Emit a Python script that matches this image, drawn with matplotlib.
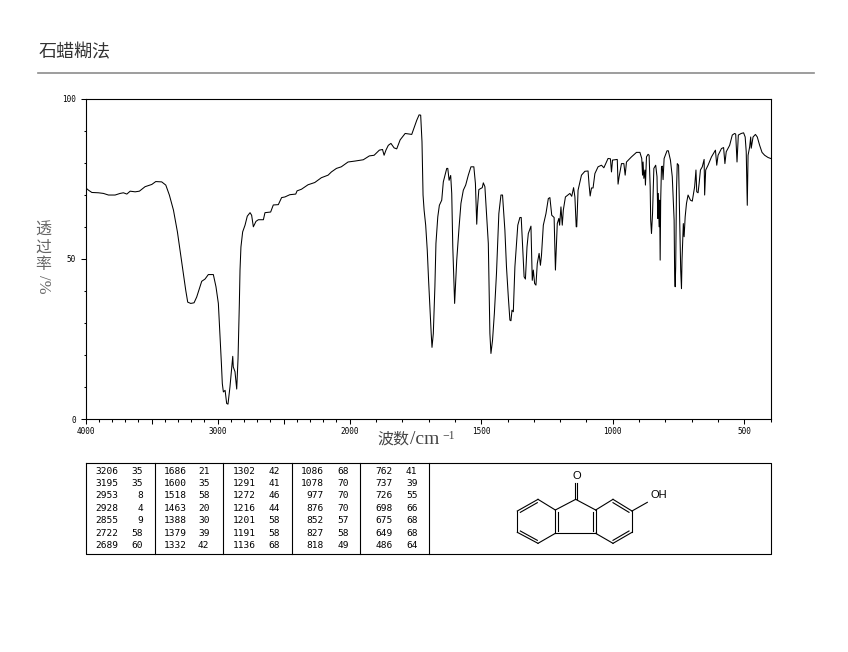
import numpy as np
import matplotlib
matplotlib.use('Agg')
import matplotlib.pyplot as plt

# spektrum: bilangan gelombang (cm-1) dan transmitansi (%)
wavenumber = [4000, 3977, 3952, 3902, 3864, 3826, 3776, 3738, 3713, 3687, 3662, 3624, 3592, 3549, 3498, 3468,
              3423, 3392, 3365, 3334, 3304, 3279, 3259, 3241, 3226, 3203, 3178, 3158, 3133, 3120, 3095, 3070,
              3032, 3012, 2994, 2981, 2971, 2964, 2956, 2943, 2931, 2921, 2906, 2893, 2885, 2881, 2868, 2855,
              2845, 2835, 2830, 2823, 2810, 2792, 2775, 2754, 2742, 2729, 2709, 2691, 2653, 2641, 2598, 2578,
              2540, 2515, 2490, 2453, 2408, 2398, 2365, 2315, 2264, 2214, 2163, 2138, 2100, 2063, 2012, 1979,
              1948, 1925, 1907, 1887, 1875, 1869, 1862, 1853, 1843, 1831, 1821, 1808, 1789, 1764, 1745, 1736,
              1730, 1725, 1721, 1717, 1711, 1705, 1700, 1695, 1690, 1687, 1682, 1676, 1672, 1665, 1659, 1650,
              1644, 1631, 1627, 1622, 1616, 1612, 1608, 1603, 1601, 1593, 1584, 1577, 1568, 1559, 1549, 1539,
              1528, 1522, 1517, 1514, 1509, 1496, 1492, 1486, 1480, 1473, 1469, 1467, 1463, 1457, 1450, 1442,
              1433, 1425, 1419, 1410, 1404, 1397, 1391, 1387, 1383, 1378, 1372, 1366, 1361, 1353, 1348, 1343,
              1337, 1332, 1326, 1321, 1311, 1306, 1302, 1297, 1292, 1287, 1280, 1275, 1271, 1264, 1254, 1245,
              1239, 1232, 1223, 1218, 1211, 1205, 1202, 1197, 1192, 1188, 1180, 1163, 1156, 1149, 1144, 1139,
              1137, 1132, 1119, 1106, 1094, 1090, 1086, 1081, 1075, 1068, 1056, 1043, 1034, 1018, 1009, 1005,
              1001, 983, 980, 976, 967, 958, 953, 948, 929, 910, 897, 890, 887, 885, 882, 878,
              876, 872, 866, 862, 858, 856, 853, 849, 844, 837, 832, 829, 827, 824, 822, 820,
              818, 815, 812, 809, 805, 794, 789, 781, 774, 767, 765, 763, 761, 758, 755, 750,
              746, 742, 739, 737, 734, 732, 729, 725, 720, 714, 705, 698, 689, 684, 681, 676,
              672, 667, 660, 653, 651, 647, 638, 625, 610, 605, 600, 587, 579, 574, 569, 556,
              546, 537, 533, 528, 523, 512, 503, 497, 493, 489, 486, 480, 476, 474, 467, 458,
              451, 442, 433, 423, 410, 400]
transmittance = [72.2, 71.4, 70.7, 70.6, 70.4, 69.9, 69.9, 70.4, 70.6, 70.2, 71.1, 70.9, 71.1, 72.5, 73.2, 74.1,
                 74.0, 73.0, 69.9, 65.2, 58.4, 51.1, 45.4, 40.2, 36.5, 36.1, 36.3, 38.1, 41.3, 43.0, 43.7, 45.1,
                 45.1, 41.3, 36.1, 25.7, 17.4, 11.1, 8.5, 9.0, 4.9, 4.7, 10.1, 15.8, 19.6, 16.3, 14.8, 9.4,
                 18.9, 36.1, 46.5, 53.7, 58.4, 60.5, 63.3, 64.4, 63.6, 60.0, 61.7, 62.2, 62.2, 64.4, 64.6, 66.8,
                 66.9, 69.1, 69.3, 70.0, 70.2, 71.2, 71.7, 73.1, 73.8, 75.3, 76.1, 77.1, 78.2, 78.7, 80.2, 80.5,
                 80.9, 82.1, 82.3, 83.9, 84.1, 82.3, 83.9, 85.4, 86.0, 84.6, 84.3, 87.1, 89.1, 88.8, 93.2, 94.9,
                 94.8, 86.5, 69.9, 65.2, 60.5, 52.7, 43.4, 35.0, 26.7, 22.4, 26.7, 41.3, 54.8, 63.1, 66.7, 68.3,
                 74.0, 78.2, 78.2, 74.5, 76.0, 70.4, 53.7, 41.3, 36.1, 49.6, 60.0, 67.3, 71.4, 73.0, 76.1, 78.7,
                 78.7, 73.5, 60.8, 66.2, 71.6, 72.2, 73.7, 72.5, 64.1, 54.8, 37.1, 26.7, 20.5, 24.6, 33.0, 45.4,
                 64.1, 69.9, 69.9, 58.9, 47.5, 38.1, 30.9, 30.7, 34.0, 33.5, 47.5, 54.8, 60.5, 62.9, 62.9, 54.8,
                 44.4, 43.7, 53.7, 57.9, 60.2, 43.3, 46.5, 42.3, 41.8, 48.5, 51.7, 48.0, 51.1, 60.5, 64.1, 68.8,
                 69.1, 63.6, 62.9, 46.5, 61.0, 62.6, 60.5, 66.2, 60.5, 65.2, 69.3, 70.4, 69.5, 72.2, 69.3, 60.0,
                 60.0, 71.4, 76.1, 77.3, 77.4, 73.0, 69.6, 72.1, 72.1, 76.6, 78.7, 79.2, 78.4, 81.3, 81.2, 77.1,
                 80.8, 81.0, 73.3, 75.6, 79.7, 79.7, 76.1, 80.2, 81.8, 83.2, 83.2, 81.3, 76.1, 80.2, 75.1, 77.7,
                 73.0, 81.8, 82.6, 82.3, 72.5, 62.1, 57.9, 64.1, 78.2, 79.2, 75.6, 62.6, 70.4, 60.0, 68.3, 49.6,
                 68.3, 78.7, 78.9, 74.7, 81.3, 83.7, 83.7, 80.8, 75.6, 62.1, 45.4, 41.3, 47.5, 71.4, 79.7, 79.2,
                 62.1, 46.5, 40.7, 49.6, 56.9, 61.0, 56.9, 63.1, 67.3, 69.9, 68.3, 68.0, 72.5, 77.7, 70.9, 70.6,
                 73.5, 77.7, 78.7, 81.0, 69.9, 77.7, 79.2, 81.8, 83.9, 79.2, 82.3, 84.4, 84.7, 79.7, 83.4, 85.4,
                 88.6, 89.1, 88.9, 80.2, 88.6, 89.1, 89.3, 88.0, 83.4, 66.7, 82.3, 84.9, 88.0, 84.5, 88.0, 88.8,
                 88.0, 85.4, 83.2, 82.3, 81.6, 81.3]

# tabel puncak
peak_wn = [['3206', '3195', '2953', '2928', '2855', '2722', '2689'],
           ['1686', '1600', '1518', '1463', '1388', '1379', '1332'],
           ['1302', '1291', '1272', '1216', '1201', '1191', '1136'],
           ['1086', '1078', '977', '876', '852', '827', '818'],
           ['762', '737', '726', '698', '675', '649', '486']]
peak_t = [['35', '35', '8', '4', '9', '58', '60'],
          ['21', '35', '58', '20', '30', '39', '42'],
          ['42', '41', '46', '44', '58', '58', '68'],
          ['68', '70', '70', '70', '57', '58', '49'],
          ['41', '39', '55', '66', '68', '68', '64']]

x_major = [4000, 3500, 3000, 2500, 2000, 1500, 1000, 500]
x_labels = ['4000', '', '3000', '', '2000', '1500', '1000', '500']
x_minor = [w for w in range(400, 4000, 100) if w not in x_major]
y_major = [0, 50, 100]
y_minor = [10, 20, 30, 40, 60, 70, 80, 90]

W, H = 848, 652
tick_font = 'DejaVu Sans Mono'

# skala x: di bawah 2000 cm-1 dua kali lebih lebar
scale_wn = [400, 2000, 4000]
scale_pos = [0, 421.2, 685.4]

def forward(v):
    v = np.asarray(v, dtype=float)
    return np.interp(v, scale_wn, scale_pos)

def inverse(u):
    u = np.asarray(u, dtype=float)
    return np.interp(u, scale_pos, scale_wn)

fig = plt.figure(figsize=(W / 100, H / 100), dpi=100)

# kanvas piksel untuk judul, tabel dan struktur
bg = fig.add_axes([0, 0, 1, 1])
bg.set_xlim(0, W)
bg.set_ylim(H, 0)
bg.axis('off')

bg.text(38.5, 52, '石蜡糊法', family=['Noto Sans CJK SC', 'DejaVu Sans'], fontsize=13, color='#333333',
        va='center', ha='left')
bg.plot([38, 814], [72.5, 72.5], color='#8c8c8c', lw=1.2)

# label sumbu
cjk = ['Noto Sans CJK SC', 'DejaVu Sans']
for ch, yy in zip('透过率', [230, 247.5, 265]):
    bg.text(43, yy, ch, family=cjk, fontsize=11.5, color='#666666', ha='center', va='center')
bg.text(43, 284, '/%', family=['Liberation Serif'], fontsize=12, color='#666666', rotation=270,
        ha='center', va='center')
bg.text(377, 439, '波数', family=cjk, fontsize=11.5, color='#444444', ha='left', va='center')
bg.text(410, 439, '/cm', family=['Liberation Serif'], fontsize=14, color='#444444', ha='left', va='center')
bg.text(442.5, 436, '−1', family=['Liberation Serif'], fontsize=8.5, color='#444444', ha='left', va='center')

# tabel
box_l, box_r, box_t, box_b = 85.5, 770.5, 462.5, 554
bg.plot([box_l, box_r, box_r, box_l, box_l], [box_t, box_t, box_b, box_b, box_t], color='k', lw=0.8)
for xv in [154.5, 222.5, 291.5, 359.5, 428.5]:
    bg.plot([xv, xv], [box_t, box_b], color='k', lw=0.8)

row_y = [471.3, 483.7, 496, 508.3, 520.7, 533.3, 545.7]
col_wn = [118.5, 186.5, 255.5, 323.5, 392.5]
col_t = [143, 209.5, 280, 349, 417.5]
for c in range(5):
    for r in range(7):
        bg.text(col_wn[c], row_y[r], peak_wn[c][r], family=tick_font, fontsize=6.8, ha='right', va='center')
        bg.text(col_t[c], row_y[r], peak_t[c][r], family=tick_font, fontsize=6.8, ha='right', va='center')

# struktur molekul
def zp(zx, zy):
    return 428 + zx / 3, 455 + zy / 3

atoms = {'a1': (330, 133), 'a2': (268, 168), 'a3': (268, 232), 'a4': (330, 265), 'a5': (382, 235), 'a6': (382, 165),
         'c9': (443, 133), 'b1': (503, 165), 'b2': (503, 235),
         'r1': (555, 133), 'r2': (612, 168), 'r3': (612, 232), 'r4': (555, 265),
         'o1': (440, 85), 'o2': (448, 85), 'c1': (440, 133), 'c2': (448, 133), 'oh': (658, 142)}
bonds = [('a1', 'a2'), ('a2', 'a3'), ('a3', 'a4'), ('a4', 'a5'), ('a5', 'a6'), ('a6', 'a1'),
         ('a6', 'c9'), ('c9', 'b1'), ('b1', 'b2'), ('b2', 'a5'),
         ('b1', 'r1'), ('r1', 'r2'), ('r2', 'r3'), ('r3', 'r4'), ('r4', 'b2'),
         ('c1', 'o1'), ('c2', 'o2'), ('r2', 'oh')]
inner = [((328, 143), (277, 172)), ((277, 228), (328, 256)), ((390, 172), (390, 228)),
         ((495, 172), (495, 228)), ((555, 143), (603, 172)), ((603, 228), (555, 256))]
for p, q in bonds:
    x0, y0 = zp(*atoms[p])
    x1, y1 = zp(*atoms[q])
    bg.plot([x0, x1], [y0, y1], color='k', lw=0.8)
for p, q in inner:
    x0, y0 = zp(*p)
    x1, y1 = zp(*q)
    bg.plot([x0, x1], [y0, y1], color='k', lw=0.8)
ox, oy = zp(447, 62)
bg.text(ox, oy, 'O', fontsize=8, family='Liberation Sans', ha='center', va='center')
hx, hy = zp(692, 120)
bg.text(hx, hy, 'OH', fontsize=8, family='Liberation Sans', ha='center', va='center')

# plot spektrum
ax = fig.add_axes([85.5 / W, 1 - 419.2 / H, 685.2 / W, 320.7 / H])
ax.patch.set_alpha(0)
ax.set_xscale('function', functions=(forward, inverse))
ax.plot(wavenumber, transmittance, color='k', lw=0.75)
ax.set_xlim(4000, 400)
ax.set_ylim(0, 100)
ax.set_xticks(x_major)
ax.set_xticklabels(x_labels, family=tick_font, fontsize=5.5)
ax.set_xticks(x_minor, minor=True)
ax.set_yticks(y_major)
ax.set_yticklabels(['0', '50', '100'], family=tick_font, fontsize=5.5)
ax.set_yticks(y_minor, minor=True)
ax.tick_params(which='major', length=3.6, width=0.75, pad=3.5)
ax.tick_params(axis='x', which='major', pad=2)
ax.tick_params(which='minor', length=1.8, width=0.75)

fig.savefig('out.png', dpi=100)
